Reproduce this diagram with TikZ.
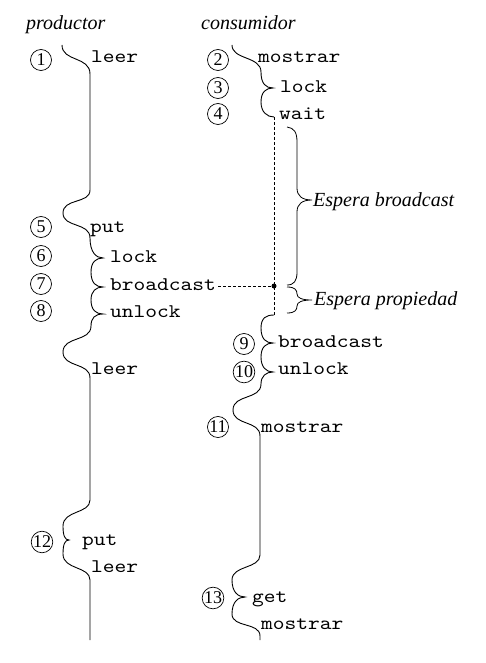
\documentclass[tikz,border=0pt]{standalone}
\usepackage{fontspec}
\setmainfont{Liberation Serif}
\setmonofont{lmmono10-regular.otf}[FakeStretch=1.16]
\begin{document}
\begin{tikzpicture}[x=1pt,y=-1pt,
    cod/.style={font=\fontsize{19.3}{20}\selectfont\ttfamily, anchor=base west, inner sep=0pt},
    num/.style={circle, draw, line width=0.7pt, inner sep=0pt, minimum size=21pt, font=\fontsize{18}{18}\selectfont},
    tit/.style={font=\fontsize{20}{20}\selectfont\itshape, anchor=base west, inner sep=0pt},
    hilo/.style={line width=0.9pt},
    espera/.style={line width=0.8pt}]
\useasboundingbox (0,0) rectangle (485,663);

\node[tit] (prod) at (26,30) {productor};
\node[tit] (cons) at (201,30) {consumidor};

\foreach \n/\x/\y in {1/41/60,5/41/227,6/41/256,7/41/284,8/41/311,12/42/542,
    2/218/60,3/218/88,4/218/114,9/244/344,10/244/372,11/218/427,13/213/598}
{
    \node[num] (n\n) at (\x,\y) {\n};
}

\foreach \nm/\x/\y/\t in {pa/91/63/leer,pb/90/232/put,pc/110/262/lock,pd/110/290/broadcast,
    pe/110/317/unlock,pf/91/374/leer,pg/82/545/put,ph/91/572/leer}
{
    \node[cod] (\nm) at (\x,\y) {\t};
}
\foreach \nm/\x/\y/\t in {ca/258/63/mostrar,cb/280/93/lock,cc/279/120/wait,cd/278/347/broadcast,
    ce/278/374/unlock,cf/261/432/mostrar,cg/252/602/get,ch/261/629/mostrar}
{
    \node[cod] (\nm) at (\x,\y) {\t};
}

\begin{scope}
    \draw[hilo] (62,45) .. controls (62,62) and (90,56) .. (90,74) -- (90,190)
        .. controls (90,204) and (63,198) .. (63,213)
        .. controls (63,228) and (90,222) .. (90,238)
        .. controls (90,252) and (96,258) .. (103,258)
        .. controls (96,258) and (91,262) .. (91,272)
        .. controls (91,283) and (96,287) .. (103,287)
        .. controls (96,287) and (91,291) .. (91,300)
        .. controls (91,310) and (96,314) .. (103,314)
        .. controls (95,314) and (91,318) .. (91,326)
        .. controls (91,342) and (63,336) .. (63,352)
        .. controls (63,368) and (90,362) .. (90,378) -- (90,500)
        .. controls (90,514) and (63,510) .. (63,526)
        .. controls (63,536) and (65,540) .. (69,540)
        .. controls (65,540) and (63,544) .. (63,554)
        .. controls (63,570) and (90,566) .. (90,580) -- (90,640);
\end{scope}

\begin{scope}
    \draw[hilo] (232,45) .. controls (232,60) and (261,56) .. (261,72)
        .. controls (261,84) and (266,88) .. (273,88)
        .. controls (266,88) and (261,92) .. (261,102)
        .. controls (261,112) and (267,117) .. (274,117) coordinate (w);
    \coordinate (r) at (274,315);
    \coordinate (dot) at (274,286);
    \draw[dashed, line width=0.7pt, dash pattern=on 3pt off 2pt] (w) -- (r);
    \draw[dashed, line width=0.7pt, dash pattern=on 3pt off 2pt] (pd.east |- dot) ++(2,0) -- (dot);
    \fill (dot) circle (2.5);
    \draw[hilo] (r) .. controls (266,315) and (261,318) .. (261,328)
        .. controls (261,339) and (266,343) .. (273,343)
        .. controls (266,343) and (261,347) .. (261,357)
        .. controls (261,367) and (266,372) .. (273,372)
        .. controls (266,372) and (261,376) .. (261,384)
        .. controls (261,400) and (233,394) .. (233,410)
        .. controls (233,426) and (260,420) .. (260,436) -- (260,555)
        .. controls (260,569) and (232,565) .. (232,580)
        .. controls (232,592) and (238,597) .. (245,597)
        .. controls (238,597) and (232,602) .. (232,614)
        .. controls (232,628) and (260,622) .. (260,636) -- (260,640);
\end{scope}

\begin{scope}
    \draw[espera] (287,127) .. controls (294,128) and (297,132) .. (297,142) -- (297,188)
        .. controls (297,196) and (302,200) .. (312,200)
        .. controls (302,200) and (297,204) .. (297,212) -- (297,272)
        .. controls (297,281) and (294,285) .. (287,285);
    \node[tit] (esb) at (313,206) {Espera broadcast};
    \draw[espera] (287,287) .. controls (295,287) and (297,290) .. (297,294)
        .. controls (297,298) and (302,300) .. (312,300)
        .. controls (302,300) and (297,302) .. (297,306)
        .. controls (297,310) and (295,313) .. (287,313);
    \node[tit] (esp) at (314,305) {Espera propiedad};
\end{scope}
\end{tikzpicture}
\end{document}
